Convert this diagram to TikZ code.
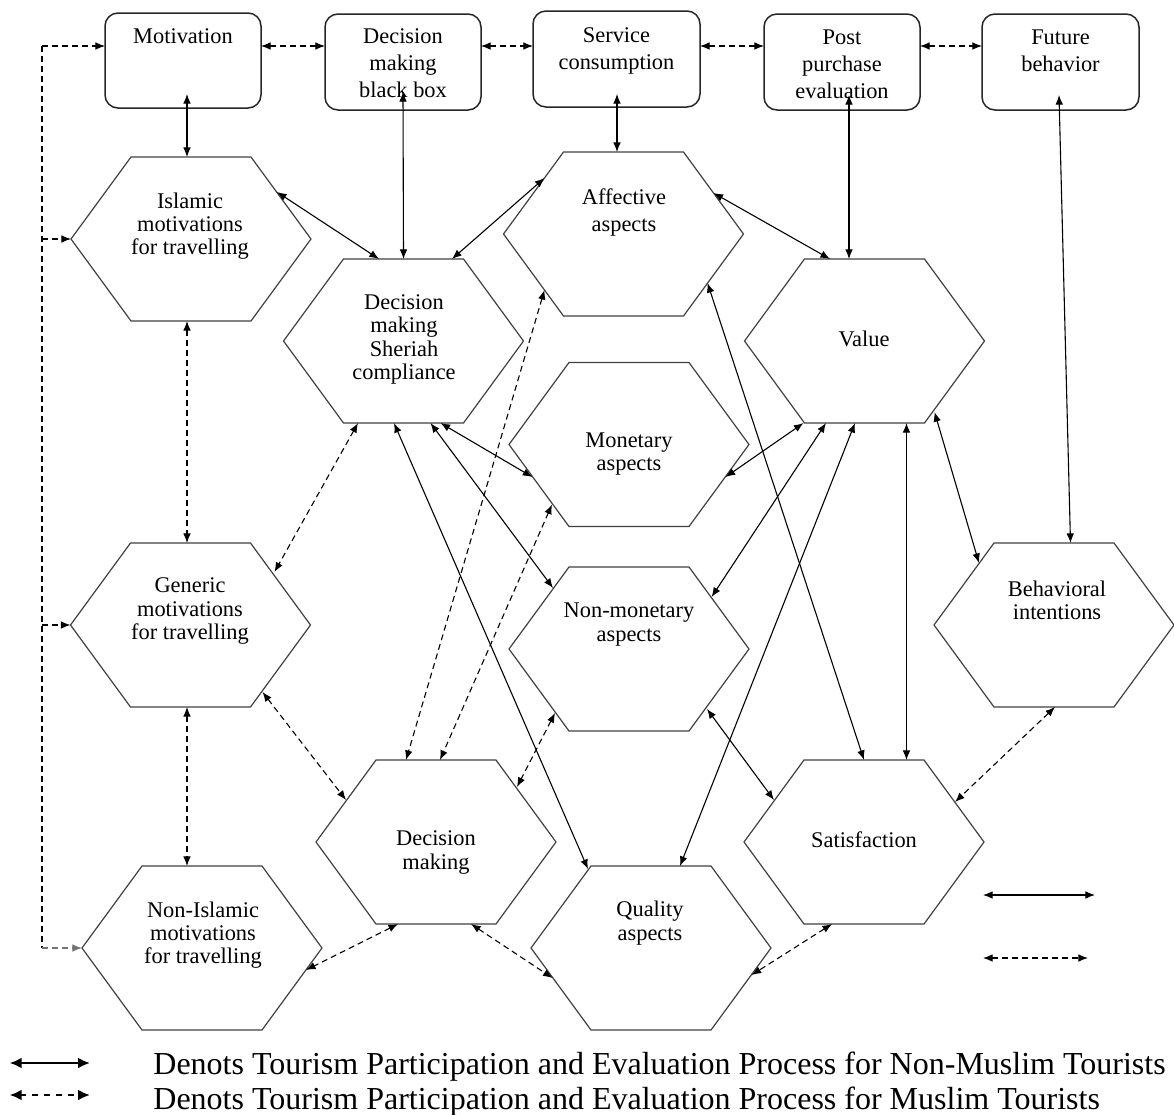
\documentclass[tikz,border=0pt]{standalone}
\usepackage{fontspec}
\setmainfont{Liberation Serif}
\usetikzlibrary{calc,arrows.meta,shapes.geometric}
\tikzset{
  hexnode/.style={regular polygon, regular polygon sides=6, minimum size=120pt,
    inner sep=0pt, outer sep=0pt, draw=black!75, line width=0.6pt, yscale=0.789},
  boxnode/.style={draw=black!85, line width=0.75pt, rounded corners=6.5pt,
    inner sep=0pt, outer sep=0pt},
  btxt/.style={align=center, inner sep=0pt, anchor=north,
    font=\fontsize{11.2pt}{13.5pt}\selectfont},
  htxt/.style={align=center, inner sep=0pt,
    font=\fontsize{11.2pt}{11.6pt}\selectfont},
  link/.style={line width=0.55pt, {Latex[length=4.8pt,width=3.8pt]}-{Latex[length=4.8pt,width=3.8pt]}},
  dlink/.style={link, dash pattern=on 3pt off 2pt},
  dline/.style={line width=0.55pt, dash pattern=on 3pt off 2pt},
  dtip/.style={dline, -{Latex[length=4.8pt,width=3.8pt]}},
  biglink/.style={line width=1.3pt, {Latex[length=6pt,width=5.5pt]}-{Latex[length=6pt,width=5.5pt]}},
  bigdlink/.style={biglink, dash pattern=on 3pt off 3pt},
  legtxt/.style={inner sep=0pt, anchor=base west, font=\fontsize{16pt}{18pt}\selectfont},
}
\begin{document}
\begin{tikzpicture}[x=0.5pt, y=-0.5pt]
\useasboundingbox (0,0) rectangle (1174,1115);

% top boxes
\node[boxnode, minimum width=78pt, minimum height=47.5pt] (mot) at (183,60.5) {};
\node[boxnode, minimum width=78pt, minimum height=48pt] (dbb) at (403,62) {};
\node[boxnode, minimum width=83.5pt, minimum height=48pt] (svc) at (616.5,59) {};
\node[boxnode, minimum width=78pt, minimum height=48pt] (ppe) at (842,62) {};
\node[boxnode, minimum width=78.5pt, minimum height=48pt] (fut) at (1060.5,62) {};
\node[btxt] (mot-t) at (183,28.5) {Motivation};
\node[btxt] (dbb-t) at (403,28.5) {Decision\\making\\black box};
\node[btxt] (svc-t) at (616.5,27.5) {Service\\consumption};
\node[btxt] (ppe-t) at (842,29.5) {Post\\purchase\\evaluation};
\node[btxt] (fut-t) at (1060.5,29.5) {Future\\behavior};

% hexagons
\node[hexnode] (isl) at (191,239) {};
\node[hexnode] (dms) at (403.5,341) {};
\node[hexnode] (aff) at (623.5,234) {};
\node[hexnode] (mon) at (629,444.5) {};
\node[hexnode] (nonm) at (629,649) {};
\node[hexnode] (val) at (864.5,341) {};
\node[hexnode] (gen) at (190.5,625) {};
\node[hexnode] (beh) at (1054,625) {};
\node[hexnode] (dm) at (436,842) {};
\node[hexnode] (sat) at (864,842) {};
\node[hexnode] (nisl) at (202,948) {};
\node[hexnode] (qual) at (651,948) {};

\node[htxt] (isl-t) at (190,226) {Islamic\\motivations\\for travelling};
\node[htxt] (dms-t) at (404,339.5) {Decision\\making\\Sheriah\\compliance};
\node[htxt, font=\fontsize{11.2pt}{13.5pt}\selectfont] (aff-t) at (624,212) {Affective\\aspects};
\node[htxt] (mon-t) at (629,454) {Monetary\\aspects};
\node[htxt] (nonm-t) at (629,624.5) {Non-monetary\\aspects};
\node[htxt] (val-t) at (864,339) {Value};
\node[htxt] (gen-t) at (190,611) {Generic\\motivations\\for travelling};
\node[htxt] (beh-t) at (1057,600) {Behavioral\\intentions};
\node[htxt] (dm-t) at (436,852.5) {Decision\\making};
\node[htxt] (sat-t) at (864,840) {Satisfaction};
\node[htxt] (nisl-t) at (203,935) {Non-Islamic\\motivations\\for travelling};
\node[htxt] (qual-t) at (650,923) {Quality\\aspects};

% dashed links between boxes
\draw[dlink] ($(mot.east)+(0,-14.5)$) -- ($(dbb.west)+(0,-16)$);
\draw[dlink] ($(dbb.east)+(0,-16)$) -- ($(svc.west)+(0,-13)$);
\draw[dlink] ($(svc.east)+(0,-13)$) -- ($(ppe.west)+(0,-16)$);
\draw[dlink] ($(ppe.east)+(0,-16)$) -- ($(fut.west)+(0,-16)$);

% left dashed line
\coordinate (lt) at (42,46);
\coordinate (lb) at (42,948);
\draw[dline] (lt) -- (lb);
\draw[dtip] (lt) -- ($(mot.west)+(0,-14.5)$);
\draw[dtip] (lt |- isl) -- ($(isl)+(-120,0)$);
\draw[dtip] (lt |- gen) -- ($(gen)+(-120,0)$);
\draw[dtip, draw=black!55] (lb) -- ($(nisl)+(-120,0)$);

% solid links
\draw[link] ($(mot)+(4,33.5)$) -- ($(isl)+(-4,-82)$);
\draw[link] ($(dbb)+(0,30)$) -- ($(dms)+(0,-82)$);
\draw[link] ($(svc)+(0.5,35)$) -- ($(aff)+(-6.5,-82)$);
\draw[link] ($(ppe)+(7,33)$) -- ($(val)+(-15.5,-82)$);
\draw[link] ($(fut)+(-1.5,33)$) -- ($(beh)+(16.5,-82)$);
\draw[link] ($(isl)+(86,-47)$) -- ($(dms)+(-24.5,-82)$);
\draw[link] ($(aff)+(-79,-56)$) -- ($(dms)+(48.5,-82)$);
\draw[link] ($(aff)+(90,-41)$) -- ($(val)+(-34.5,-82)$);
\draw[link] ($(aff)+(84,49)$) -- ($(sat)+(0,-82)$);
\draw[link] ($(dms)+(-9.5,82)$) -- ($(qual)+(-63,-79)$);
\draw[link] ($(dms)+(37,82)$) -- ($(mon)+(-96.6,32.5)$);
\draw[link] ($(dms)+(27,82)$) -- ($(nonm)+(-76,-61)$);
\draw[link] ($(val)+(-61,82)$) -- ($(mon)+(96.6,32.5)$);
\draw[link] ($(val)+(-38.5,82)$) -- ($(nonm)+(82.6,-52)$);
\draw[link] ($(val)+(-9.5,82)$) -- ($(qual)+(29,-82)$);
\draw[link] ($(val)+(42,82)$) -- ($(sat)+(42.5,-82)$);
\draw[link] ($(val)+(70,71)$) -- ($(beh)+(-75,-62)$);
\draw[link] ($(nonm)+(78,60)$) -- ($(sat)+(-90,-42)$);

% dashed links
\draw[dlink] ($(isl)+(-4,82)$) -- ($(gen)+(-3.5,-82)$);
\draw[dlink] ($(gen)+(-3.5,82)$) -- ($(nisl)+(-15,-82)$);
\draw[dlink] ($(dms)+(-45.5,82)$) -- ($(gen)+(84,-53)$);
\draw[dlink] ($(aff)+(-79,56)$) -- ($(dm)+(-30,-82)$);
\draw[dlink] ($(mon)+(-77,60)$) -- ($(dm)+(4,-82)$);
\draw[dlink] ($(nonm)+(-74,64)$) -- ($(dm)+(81,-55)$);
\draw[dlink] ($(gen)+(72,67)$) -- ($(dm)+(-90,-42)$);
\draw[dlink] ($(dm)+(-38,82)$) -- ($(nisl)+(104,22)$);
\draw[dlink] ($(dm)+(35,82)$) -- ($(qual)+(-98.4,30)$);
\draw[dlink] ($(sat)+(-32,82)$) -- ($(qual)+(100.6,27)$);
\draw[dlink] ($(beh)+(1,82)$) -- ($(sat)+(91,-40)$);

% inner legend
\coordinate (la1) at (983,895);
\coordinate (lb1) at (1095,895);
\coordinate (la2) at (983,958);
\coordinate (lb2) at (1088,958);
\draw[link] (la1) -- (lb1);
\draw[dlink] (la2) -- (lb2);

% bottom legend
\coordinate (ka1) at (9.6,1063);
\coordinate (kb1) at (90,1063);
\coordinate (ka2) at (9.6,1095);
\coordinate (kb2) at (90,1095);
\draw[biglink] (ka1) -- (kb1);
\draw[bigdlink] (ka2) -- (kb2);
\node[legtxt] (leg1) at (153,1074) {Denots Tourism Participation and Evaluation Process for Non-Muslim Tourists};
\node[legtxt] (leg2) at (153,1109) {Denots Tourism Participation and Evaluation Process for Muslim Tourists};
\end{tikzpicture}
\end{document}
